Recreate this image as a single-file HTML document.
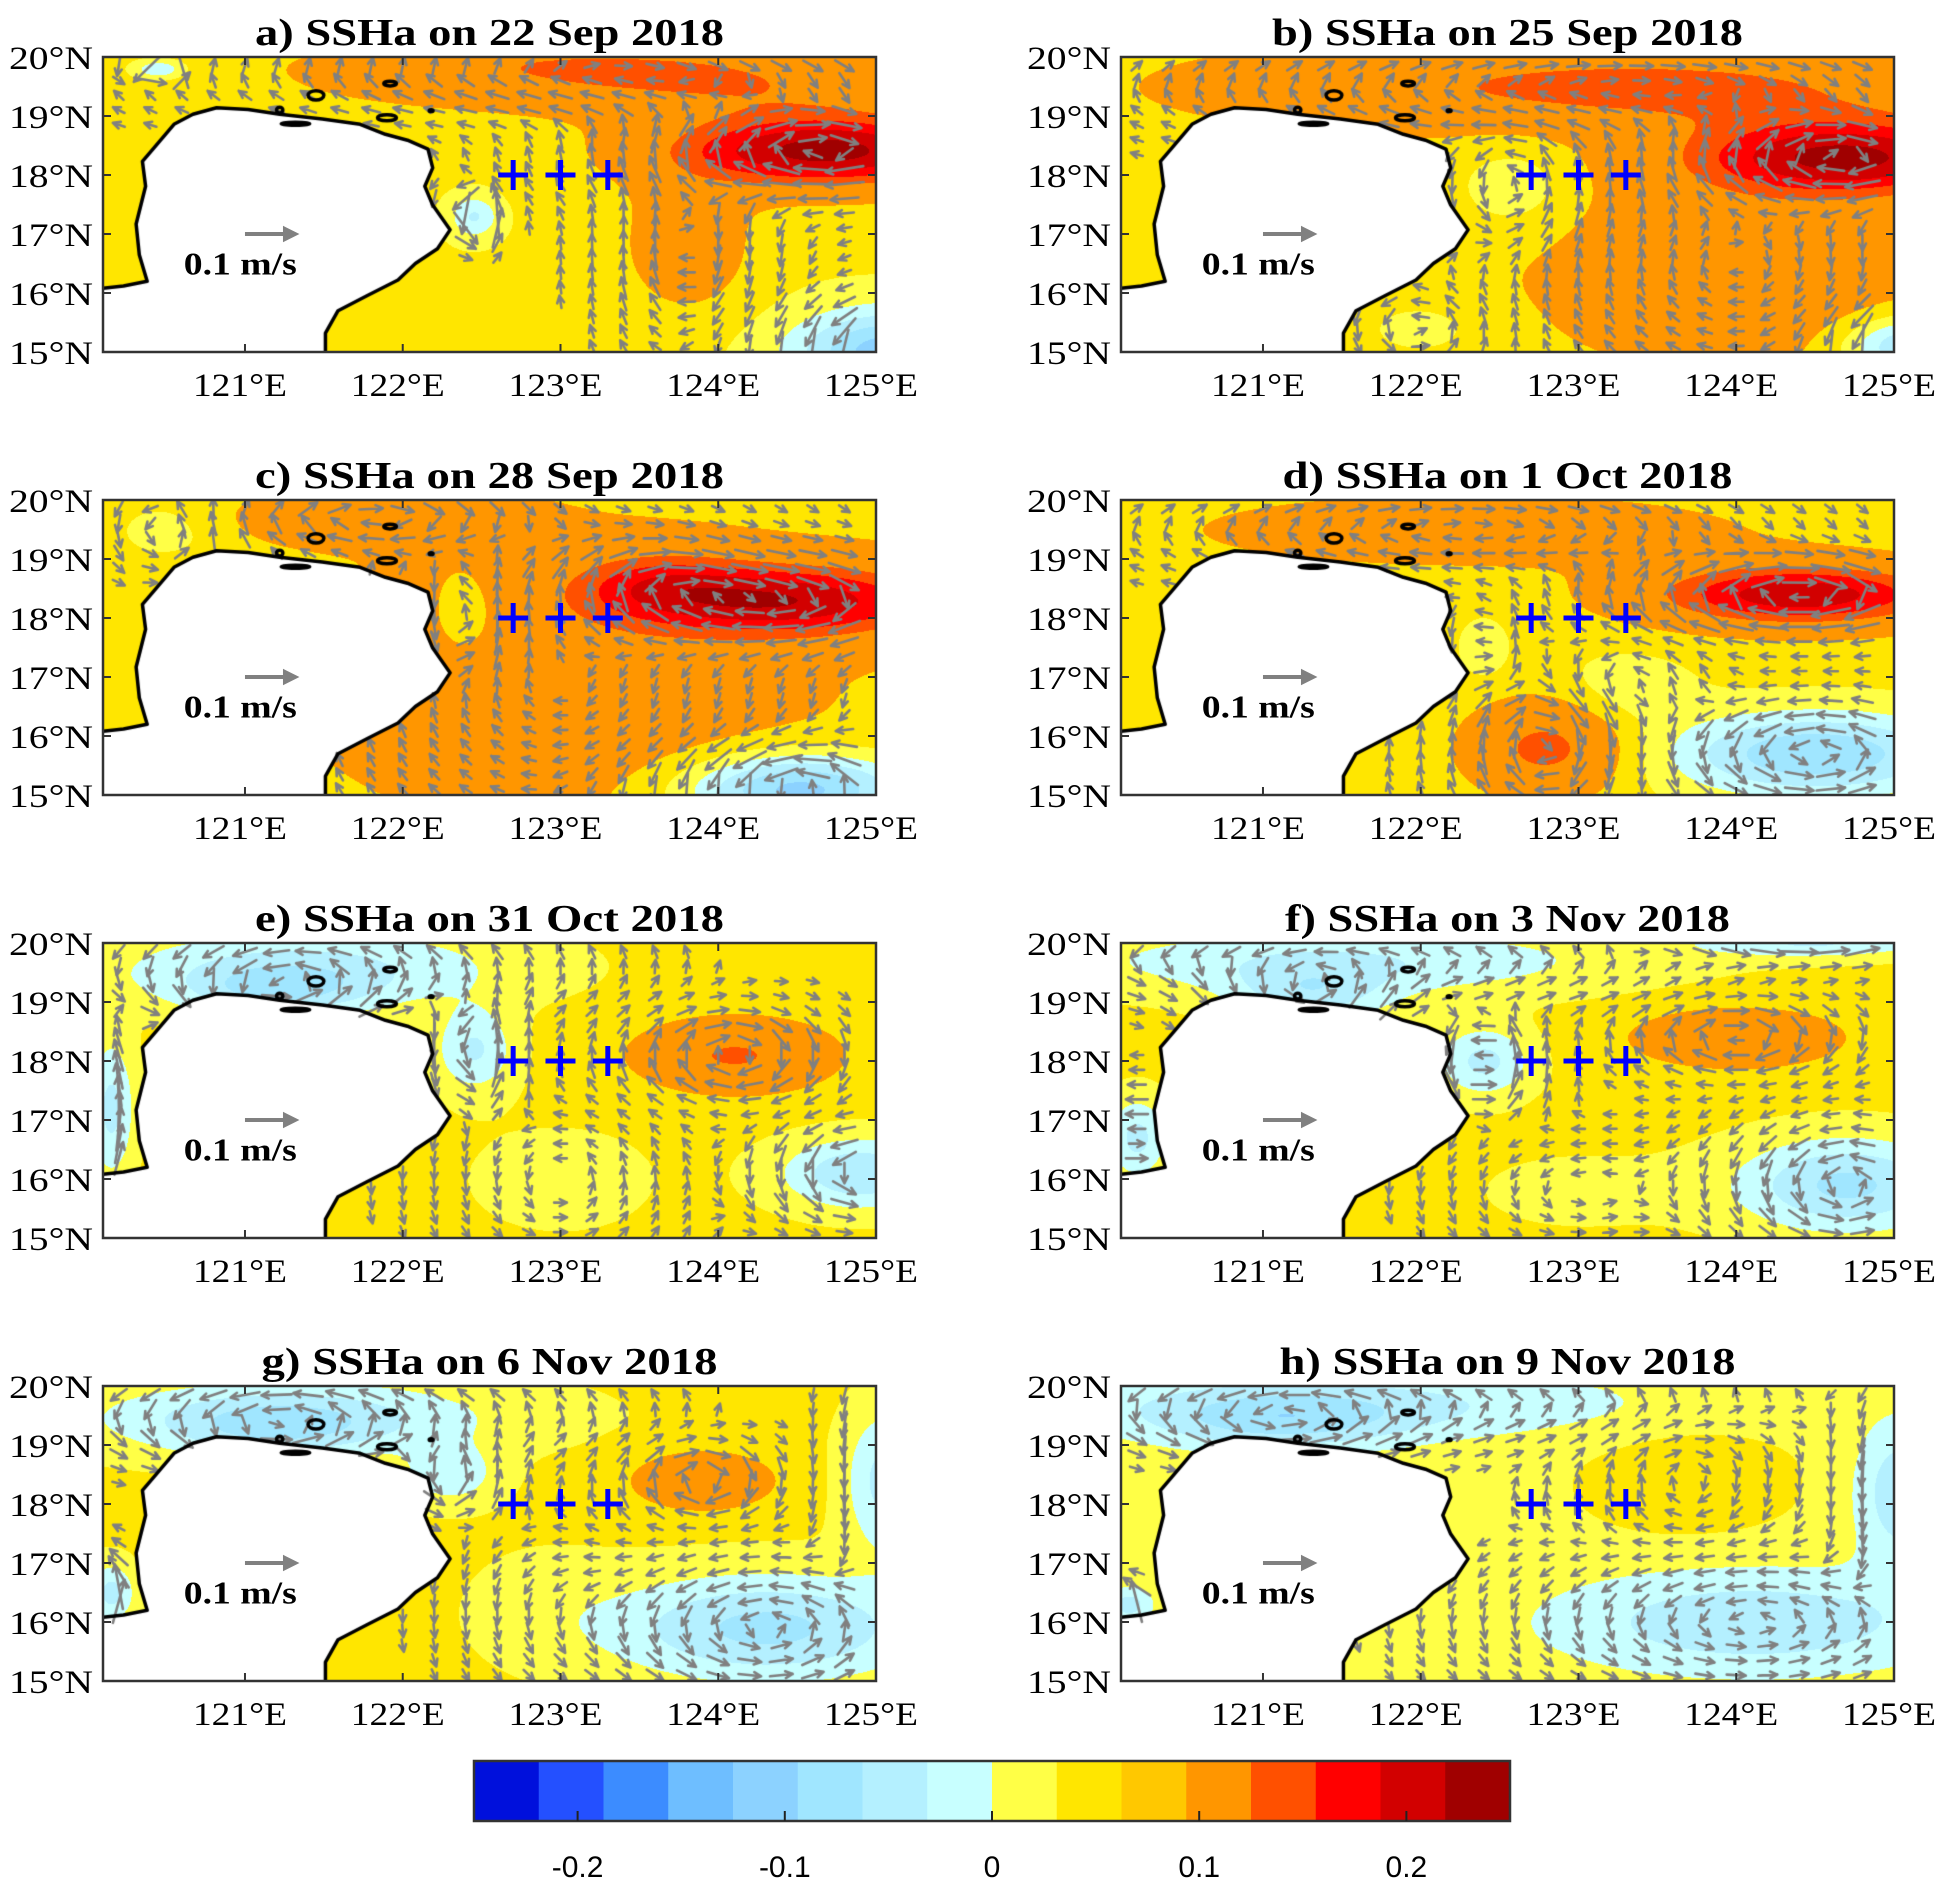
<!DOCTYPE html>
<html><head><meta charset="utf-8">
<style>
html,body{margin:0;padding:0;background:#fff;}
#page{position:relative;width:1949px;height:1887px;overflow:hidden;background:#fff;}
canvas{position:absolute;}
svg{position:absolute;left:0;top:0;}
</style></head>
<body>
<div id="page">
<svg id="ov" width="1949" height="1887"></svg>
</div>
<script>
// ---- data ----
const titles=["a) SSHa on 22 Sep 2018","b) SSHa on 25 Sep 2018","c) SSHa on 28 Sep 2018","d) SSHa on 1 Oct 2018","e) SSHa on 31 Oct 2018","f) SSHa on 3 Nov 2018","g) SSHa on 6 Nov 2018","h) SSHa on 9 Nov 2018"];
const baseValues=[0.035,0.05,0.05,0.04,0.04,0.04,0.038,0.025];
// blobs: [lon, lat, sigmaLon, sigmaLat, amplitude(m)]
const blobsA=[[124.7,18.4,1.0,0.6,0.16],[124.5,18.6,1.2,1.0,0.04],[123.5,19.6,2.0,0.55,0.08],[123.8,16.8,0.4,1.1,0.06],[123.0,20.0,1.5,0.35,0.04],[125.1,15.0,0.6,0.7,-0.15],[122.45,17.3,0.15,0.35,-0.07],[120.45,19.8,0.15,0.15,-0.07]];
const blobsB=[[124.7,18.3,1.0,0.65,0.17],[123.3,19.5,2.2,0.7,0.09],[124.0,16.5,1.2,1.6,0.05],[125.1,15.1,0.4,0.5,-0.12],[122.6,17.8,0.4,0.8,-0.04],[122.0,15.4,0.4,0.5,-0.03]];
const blobsC=[[124.5,18.3,1.0,0.65,0.15],[123.6,18.6,0.6,0.6,0.07],[123.0,17.0,1.5,2.2,0.05],[121.8,19.7,0.8,0.4,0.06],[124.5,15.1,0.7,0.6,-0.16],[122.4,18.0,0.2,0.7,-0.04],[120.5,19.5,0.4,0.6,-0.03]];
const blobsD=[[124.4,18.4,1.0,0.55,0.17],[122.3,19.5,1.7,0.6,0.06],[122.8,15.8,0.5,0.8,0.1],[124.5,15.7,0.9,0.7,-0.13],[123.3,16.8,0.4,0.6,-0.03],[122.4,17.5,0.15,0.5,-0.03]];
const blobsE=[[121.2,19.2,0.6,0.45,-0.07],[121.4,19.6,1.3,0.7,-0.075],[122.45,18.2,0.25,0.7,-0.075],[124.1,18.1,0.6,0.6,0.09],[124.9,16.1,0.5,0.6,-0.1],[120.15,17.2,0.15,1.2,-0.08],[123.0,16.0,0.8,1.2,-0.015]];
const blobsF=[[121.3,19.1,0.5,0.5,-0.07],[121.5,19.7,1.8,0.6,-0.07],[124.5,20.0,0.8,0.25,-0.07],[122.4,18.0,0.3,0.6,-0.08],[124.0,18.4,0.65,0.5,0.07],[124.7,15.9,0.7,0.8,-0.11],[120.2,16.7,0.2,0.7,-0.08],[123.0,15.8,0.8,0.8,-0.015]];
const blobsG=[[121.2,19.3,0.7,0.5,-0.06],[121.3,19.5,1.4,0.65,-0.07],[122.3,18.5,0.3,0.5,-0.06],[123.9,18.4,0.45,0.5,0.07],[124.3,15.9,1.0,0.9,-0.11],[125.05,18.4,0.25,1.2,-0.08],[120.15,16.5,0.15,0.5,-0.08],[122.9,16.3,0.5,1.0,-0.015]];
const blobsH=[[121.1,19.4,0.8,0.5,-0.07],[121.5,19.7,2.0,0.6,-0.06],[123.7,18.4,0.6,0.9,0.03],[124.1,16.0,1.3,0.9,-0.08],[125.05,18.2,0.3,1.2,-0.08],[120.15,16.3,0.15,0.3,-0.07]];
const allBlobs=[blobsA,blobsB,blobsC,blobsD,blobsE,blobsF,blobsG,blobsH];
const cmapColors=["#0010dc","#2450ff","#3c8cff","#6ebeff","#8cd2ff","#a0e6ff","#b4f0ff","#c8ffff","#ffff46","#ffe600","#ffc800","#ff9600","#ff5000","#ff0000","#d20000","#a00000"];
const cbTicks=[-0.2,-0.1,0,0.1,0.2];
const lonTicks=[121,122,123,124,125];
const latTicks=[15,16,17,18,19,20];
const stationLons=[122.7,123.0,123.3];
const stationLat=18.0;
const coast=[[120.1,16.08],[120.23,16.12],[120.38,16.2],[120.33,16.65],[120.31,17.17],[120.37,17.81],[120.35,18.23],[120.43,18.48],[120.55,18.86],[120.67,19.03],[120.82,19.14],[121.02,19.11],[121.22,19.03],[121.49,18.95],[121.73,18.86],[121.89,18.69],[122.03,18.59],[122.16,18.44],[122.19,18.12],[122.14,17.81],[122.19,17.49],[122.3,17.07],[122.22,16.75],[122.08,16.5],[121.97,16.22],[121.77,15.95],[121.59,15.7],[121.51,15.32],[121.51,15.0]];
const islands=[[121.45,19.35,0.05,0.08],[121.22,19.1,0.02,0.05],[121.32,18.87,0.09,0.025],[121.9,18.97,0.06,0.05],[121.92,19.55,0.04,0.04],[122.18,19.09,0.012,0.015]];

// ---- layout ----
const lonMin=120.1,lonMax=125,latMin=15,latMax=20;
const PX=[103,1121],PY=[57,500,943,1386],PW=773,PH=295;
const titleLens=[469,471,469,450,469,445,456,456];
const NS="http://www.w3.org/2000/svg";
const ov=document.getElementById('ov');
const page=document.getElementById('page');
function sv(tag,attrs,parent){const e=document.createElementNS(NS,tag);for(const k in attrs)e.setAttribute(k,attrs[k]);(parent||ov).appendChild(e);return e;}
function field(i,lon,lat){let v=baseValues[i];for(const b of allBlobs[i]){const dx=(lon-b[0])/b[2],dy=(lat-b[1])/b[3];v+=b[4]*Math.exp(-dx*dx-dy*dy);}return v;}
function colorIdx(v){return Math.max(0,Math.min(15,Math.floor((v+0.25)/0.03125)));}
function hex(c){return [parseInt(c.substr(1,2),16),parseInt(c.substr(3,2),16),parseInt(c.substr(5,2),16)];}
const rgb=cmapColors.map(hex);
const mapRgb=rgb.slice();mapRgb[10]=rgb[11];

for(let i=0;i<8;i++){
  const col=i%2,row=Math.floor(i/2);
  const x0=PX[col],y0=PY[row];
  const sx=lon=>(lon-lonMin)/(lonMax-lonMin)*PW;
  const sy=lat=>(latMax-lat)/(latMax-latMin)*PH;
  const cv=document.createElement('canvas');
  cv.width=PW;cv.height=PH;cv.style.left=x0+'px';cv.style.top=y0+'px';
  
  
  page.insertBefore(cv,ov);
  const ctx=cv.getContext('2d');
  const img=ctx.createImageData(PW,PH);
  for(let py=0;py<PH;py++){const lat=latMax-py/PH*(latMax-latMin);
    for(let px=0;px<PW;px++){const lon=lonMin+px/PW*(lonMax-lonMin);
      const c=mapRgb[colorIdx(field(i,lon,lat))];const k=(py*PW+px)*4;
      img.data[k]=c[0];img.data[k+1]=c[1];img.data[k+2]=c[2];img.data[k+3]=255;}}
  ctx.putImageData(img,0,0);
  const land=new Path2D();
  coast.forEach((p,j)=>{j?land.lineTo(sx(p[0]),sy(p[1])):land.moveTo(sx(p[0]),sy(p[1]));});
  land.lineTo(0,PH);land.closePath();
  ctx.fillStyle='#fff';ctx.fill(land);
  ctx.strokeStyle='#808080';ctx.lineWidth=2.6;ctx.lineCap='round';
  for(let lon=120.2;lon<125;lon+=0.2){for(let lat=15.1;lat<20;lat+=0.25){
    const ax=sx(lon),ay=sy(lat);
    if(ctx.isPointInPath(land,ax,ay))continue;
    const h=0.02;
    const gx=(field(i,lon+h,lat)-field(i,lon-h,lat))/(2*h);
    const gy=(field(i,lon,lat+h)-field(i,lon,lat-h))/(2*h);
    const G=Math.hypot(gx,gy);if(G<0.004)continue;
    const L=Math.min(46,12+110*G);
    const u=-gy/G*L,v=gx/G*L;
    const bx=ax-u/2,by=ay+v/2,ex=ax+u/2,ey=ay-v/2;
    const ang=Math.atan2(ey-by,ex-bx);const hl=8;
    ctx.beginPath();ctx.moveTo(bx,by);ctx.lineTo(ex,ey);
    ctx.moveTo(ex,ey);ctx.lineTo(ex-hl*Math.cos(ang-0.45),ey-hl*Math.sin(ang-0.45));
    ctx.moveTo(ex,ey);ctx.lineTo(ex-hl*Math.cos(ang+0.45),ey-hl*Math.sin(ang+0.45));
    ctx.stroke();}}
  ctx.strokeStyle='#000';ctx.lineWidth=3.5;ctx.lineJoin='round';
  ctx.beginPath();coast.forEach((p,j)=>{j?ctx.lineTo(sx(p[0]),sy(p[1])):ctx.moveTo(sx(p[0]),sy(p[1]));});ctx.stroke();
  islands.forEach(s=>{ctx.beginPath();ctx.ellipse(sx(s[0]),sy(s[1]),s[2]/(lonMax-lonMin)*PW,s[3]/5*PH,0,0,Math.PI*2);ctx.stroke();});
  const g=sv('g',{});
  
  
  const t=sv('text',{x:x0+PW/2,y:y0-12,'text-anchor':'middle','font-family':'"Liberation Serif",serif','font-weight':'bold','font-size':38,textLength:titleLens[i],lengthAdjust:'spacingAndGlyphs'},g);
  t.textContent=titles[i];
  
  
  sv('rect',{x:x0,y:y0,width:PW,height:PH,fill:'none',stroke:'#333',"stroke-width":2.5},g);
  lonTicks.forEach(lon=>{const x=x0+sx(lon);
    sv('line',{x1:x,y1:y0,x2:x,y2:y0+8,stroke:'#333','stroke-width':2},g);
    sv('line',{x1:x,y1:y0+PH,x2:x,y2:y0+PH-8,stroke:'#333','stroke-width':2},g);
    const tl=sv('text',{x:x-5,y:y0+PH+44,'text-anchor':'middle','font-family':'"Liberation Serif",serif','font-size':33,textLength:94,lengthAdjust:'spacingAndGlyphs'},g);
    tl.textContent=lon+'°E';
    
    });
  latTicks.forEach(lat=>{const y=y0+sy(lat);
    sv('line',{x1:x0,y1:y,x2:x0+8,y2:y,stroke:'#333','stroke-width':2},g);
    sv('line',{x1:x0+PW,y1:y,x2:x0+PW-8,y2:y,stroke:'#333','stroke-width':2},g);
    const tl=sv('text',{x:x0-10,y:y+12,'text-anchor':'end','font-family':'"Liberation Serif",serif','font-size':33,textLength:84,lengthAdjust:'spacingAndGlyphs'},g);
    tl.textContent=lat+'°N';
    
    });
  stationLons.forEach(lon=>{const x=x0+sx(lon),y=y0+sy(stationLat);
    const p=sv('path',{d:`M${x-15},${y}H${x+15}M${x},${y-15}V${y+15}`,stroke:'#0000ff','stroke-width':5},g);
    
    });
  const rx=x0+sx(121.0),ry=y0+sy(17.0);
  const ra=sv('path',{d:`M${rx},${ry}H${rx+40}M${rx+40},${ry-5}L${rx+50},${ry}L${rx+40},${ry+5}Z`,stroke:'#808080','stroke-width':4,fill:'#808080'},g);
  
  
  const rt=sv('text',{x:x0+sx(120.97),y:y0+sy(16.5)+11,'text-anchor':'middle','font-family':'"Liberation Serif",serif','font-weight':'bold','font-size':32,textLength:113,lengthAdjust:'spacingAndGlyphs'},g);
  rt.textContent='0.1 m/s';
  
  
}
const CBX=474,CBY=1761,CBW=1036,CBH=60;
const cb=sv('g',{});


cmapColors.forEach((c,j)=>{const r=sv('rect',{x:CBX+j*CBW/16,y:CBY,width:CBW/16+0.5,height:CBH,fill:c},cb);
  
  });
sv('rect',{x:CBX,y:CBY,width:CBW,height:CBH,fill:'none',stroke:'#333','stroke-width':2.5},cb);
cbTicks.forEach(v=>{const x=CBX+(v+0.25)/0.5*CBW;
  sv('line',{x1:x,y1:CBY+CBH,x2:x,y2:CBY+CBH-10,stroke:'#222','stroke-width':2},cb);
  const tl=sv('text',{x:x,y:CBY+CBH+56,'text-anchor':'middle','font-family':'"Liberation Sans",sans-serif','font-size':30},cb);
  tl.textContent=String(v);
  
  });
</script>
</body></html>
